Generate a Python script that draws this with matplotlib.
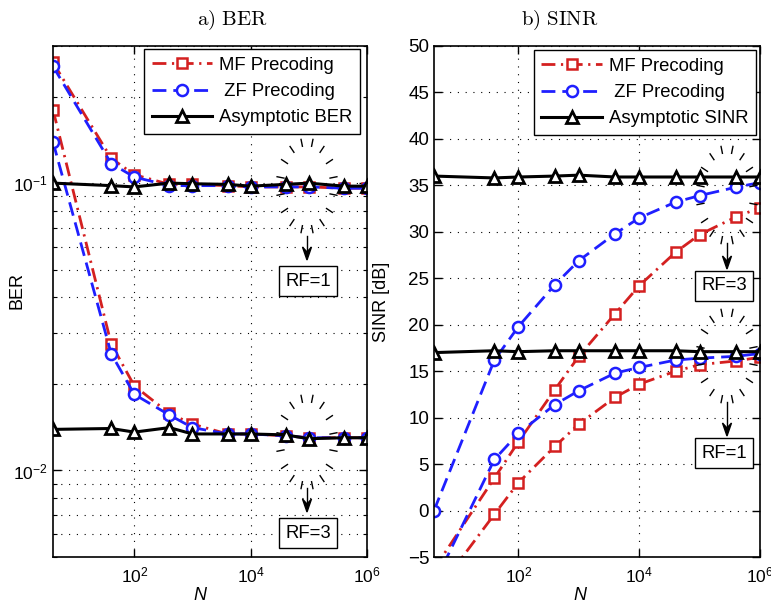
import numpy as np
import matplotlib
matplotlib.use("Agg")
import matplotlib.pyplot as plt
from matplotlib.lines import Line2D
from matplotlib.ticker import LogLocator, NullLocator, FixedLocator, NullFormatter

plt.rcParams['font.family'] = ['Liberation Sans', 'DejaVu Sans']
plt.rcParams['mathtext.fontset'] = 'custom'
plt.rcParams['mathtext.rm'] = 'Liberation Sans'
plt.rcParams['mathtext.it'] = 'Liberation Sans:italic'

# ---------------- data ----------------
N = [4, 40, 100, 400, 1000, 4000, 1e4, 4e4, 1e5, 4e5, 1e6]

mf_ber_rf1 = [0.263, 0.122, 0.107, 0.099, 0.099, 0.098, 0.097, 0.097, 0.097, 0.096, 0.096]
zf_ber_rf1 = [0.255, 0.117, 0.105, 0.098, 0.098, 0.098, 0.097, 0.097, 0.097, 0.096, 0.096]
asy_ber_rf1 = [0.100, 0.098, 0.097, 0.100, 0.0995, 0.099, 0.0976, 0.099, 0.100, 0.0976, 0.0976]
mf_ber_rf3 = [0.180, 0.0276, 0.0197, 0.0158, 0.0145, 0.0134, 0.0134, 0.0132, 0.0130, 0.0130, 0.0130]
zf_ber_rf3 = [0.139, 0.0255, 0.0184, 0.0156, 0.0141, 0.0134, 0.0134, 0.0132, 0.0130, 0.0130, 0.0130]
asy_ber_rf3 = [0.0139, 0.0140, 0.0136, 0.0141, 0.0134, 0.0134, 0.0134, 0.0133, 0.0129, 0.0130, 0.0130]

mf_sinr_rf3 = [-6.3, 3.5, 7.4, 13.0, 16.6, 21.2, 24.2, 27.8, 29.7, 31.6, 32.6]
zf_sinr_rf3 = [0.0, 16.2, 19.8, 24.3, 26.9, 29.8, 31.5, 33.2, 33.9, 34.8, 35.3]
asy_sinr_rf3 = [36.0, 35.8, 35.9, 36.0, 36.1, 35.9, 35.9, 35.9, 35.9, 35.9, 35.9]
mf_sinr_rf1 = [-9.1, -0.4, 3.0, 6.9, 9.3, 12.2, 13.6, 15.0, 15.7, 16.1, 16.5]
zf_sinr_rf1 = [-7.9, 5.5, 8.3, 11.4, 12.9, 14.8, 15.4, 16.2, 16.4, 16.6, 16.9]
asy_sinr_rf1 = [17.0, 17.2, 17.1, 17.2, 17.2, 17.2, 17.2, 17.2, 17.1, 17.1, 17.1]

labels_ber = ["MF Precoding", " ZF Precoding", "Asymptotic BER"]
labels_sinr = ["MF Precoding", " ZF Precoding", "Asymptotic SINR"]
titles = ["a) BER", "b) SINR"]

# ---------------- styles ----------------
RED = '#d42020'
BLUE = '#1f1fff'
W, H = 771, 604
fig = plt.figure(figsize=(W / 100, H / 100), dpi=100)

def fx(x):
    return x / W

def fy(y):
    return 1 - y / H

mf_style = dict(color=RED, lw=2.0, dashes=(5, 2, 0.8, 2), marker='s', ms=6.5,
                mfc='white', mec=RED, mew=1.8)
zf_style = dict(color=BLUE, lw=2.0, dashes=(5, 2.5), marker='o', ms=8,
                mfc='white', mec=BLUE, mew=1.8)
asy_style = dict(color='black', lw=2.2, ls='-', marker='^', ms=9,
                 mfc='white', mec='black', mew=2.0)

grid_kw = dict(color='black', linestyle=(0, (1, 6)), linewidth=0.8)

ax1 = fig.add_axes([fx(53), fy(557), fx(367) - fx(53), fy(46) - fy(557)])
ax2 = fig.add_axes([fx(434), fy(557), fx(760) - fx(434), fy(46) - fy(557)])

# ---------------- BER ----------------
l1, = ax1.plot(N, mf_ber_rf1, **mf_style)
ax1.plot(N, mf_ber_rf3, **mf_style)
l2, = ax1.plot(N, zf_ber_rf1, **zf_style)
ax1.plot(N, zf_ber_rf3, **zf_style)
l3, = ax1.plot(N, asy_ber_rf1, **asy_style)
ax1.plot(N, asy_ber_rf3, **asy_style)
ax1.set_xscale('log')
ax1.set_yscale('log')
ax1.set_xlim(4, 1e6)
ax1.set_ylim(0.005, 0.3)
ax1.yaxis.set_major_locator(FixedLocator([0.01, 0.1]))
ax1.yaxis.set_minor_locator(LogLocator(base=10, subs=np.arange(2, 10)))
ax1.yaxis.set_minor_formatter(NullFormatter())
ax1.set_ylabel("BER", fontsize=13)
ax1.yaxis.set_label_coords(-0.089, 0.522)
ax1.tick_params(axis='y', labelsize=12.5)

# ---------------- SINR ----------------
m1, = ax2.plot(N, mf_sinr_rf3, **mf_style)
ax2.plot(N, mf_sinr_rf1, **mf_style)
m2, = ax2.plot(N, zf_sinr_rf3, **zf_style)
ax2.plot(N, zf_sinr_rf1, **zf_style)
m3, = ax2.plot(N, asy_sinr_rf3, **asy_style)
ax2.plot(N, asy_sinr_rf1, **asy_style)
ax2.set_xscale('log')
ax2.set_xlim(4, 1e6)
ax2.set_ylim(-5, 50)
ax2.yaxis.set_major_locator(FixedLocator(np.arange(-5, 51, 5)))
ax2.set_ylabel("SINR [dB]", fontsize=13)
ax2.yaxis.set_label_coords(-0.135, 0.5)
ax2.tick_params(axis='y', labelsize=13.5)

for ax in (ax1, ax2):
    ax.xaxis.set_major_locator(FixedLocator([1e2, 1e4, 1e6]))
    ax.xaxis.set_minor_locator(NullLocator())
    ax.tick_params(which='both', direction='in', top=True, right=True)
    ax.tick_params(axis='x', labelsize=12.5, pad=6)
    ax.tick_params(which='major', length=6, width=1)
    ax.tick_params(which='minor', length=3, width=0.8)
    ax.grid(True, which='major', **grid_kw)
    for s in ax.spines.values():
        s.set_linewidth(1.2)
    ax.set_xlabel("N", fontsize=13, fontstyle='italic')
ax1.grid(True, which='minor', axis='y', **grid_kw)
ax1.xaxis.set_label_coords(0.468, -0.058)
ax2.xaxis.set_label_coords(0.448, -0.058)

leg_kw = dict(loc='upper right', fontsize=13.3, numpoints=1, handlelength=3.3,
              handletextpad=0.35, borderaxespad=0, fancybox=False,
              edgecolor='black', framealpha=1, labelspacing=0.5, borderpad=0.42)
lg1 = ax1.legend([l1, l2, l3], labels_ber, bbox_to_anchor=(0.978, 0.994), **leg_kw)
lg1.get_frame().set_linewidth(1.0)
lg2 = ax2.legend([m1, m2, m3], labels_sinr, bbox_to_anchor=(0.988, 0.992), **leg_kw)
lg2.get_frame().set_linewidth(1.0)

# ---------------- titles ----------------
fig.text(fx(232), fy(20), r'$\mathrm{' + titles[0].replace(' ', r'\ ') + '}$',
         math_fontfamily='cm', fontsize=15, ha='center', va='center')
fig.text(fx(560), fy(20), r'$\mathrm{' + titles[1].replace(' ', r'\ ') + '}$',
         math_fontfamily='cm', fontsize=15, ha='center', va='center')

# ---------------- annotations ----------------
def burst(cx, cy, rx, ry, n=16, ln=7):
    for k in range(n):
        t = 2 * np.pi * (k + 0.5) / n
        c, s = np.cos(t), np.sin(t)
        x0, y0 = cx + (rx - ln / 2) * c, cy + (ry - ln / 2) * s
        x1, y1 = cx + (rx + ln / 2) * c, cy + (ry + ln / 2) * s
        fig.add_artist(Line2D([fx(x0), fx(x1)], [fy(y0), fy(y1)], color='black',
                              lw=1.0, transform=fig.transFigure))

def arrow_box(x, y0, y1, box_cx, box_cy, text):
    fig.add_artist(Line2D([fx(x), fx(x)], [fy(y0), fy(y1 - 8)], color='black', lw=1.0,
                          transform=fig.transFigure))
    fig.patches.append(plt.Polygon([[fx(x - 4.5), fy(y1 - 13)], [fx(x), fy(y1)],
                                    [fx(x + 4.5), fy(y1 - 13)], [fx(x), fy(y1 - 8)]],
                                   closed=True, color='black', transform=fig.transFigure))
    fig.text(fx(box_cx), fy(box_cy), text, fontsize=13.3, ha='center', va='center',
             bbox=dict(boxstyle='square,pad=0.35', fc='white', ec='black', lw=1.0))

burst(307, 186, 27, 44)
arrow_box(307, 236, 260, 308, 281, "RF=1")
burst(307, 442, 27, 44)
arrow_box(307, 488, 512, 308, 533, "RF=3")
burst(727, 195, 27, 46)
arrow_box(727, 243, 269, 724, 286, "RF=3")
burst(727, 356, 27, 44)
arrow_box(727, 402, 436, 724, 453, "RF=1")

fig.savefig("out.png", dpi=100)
